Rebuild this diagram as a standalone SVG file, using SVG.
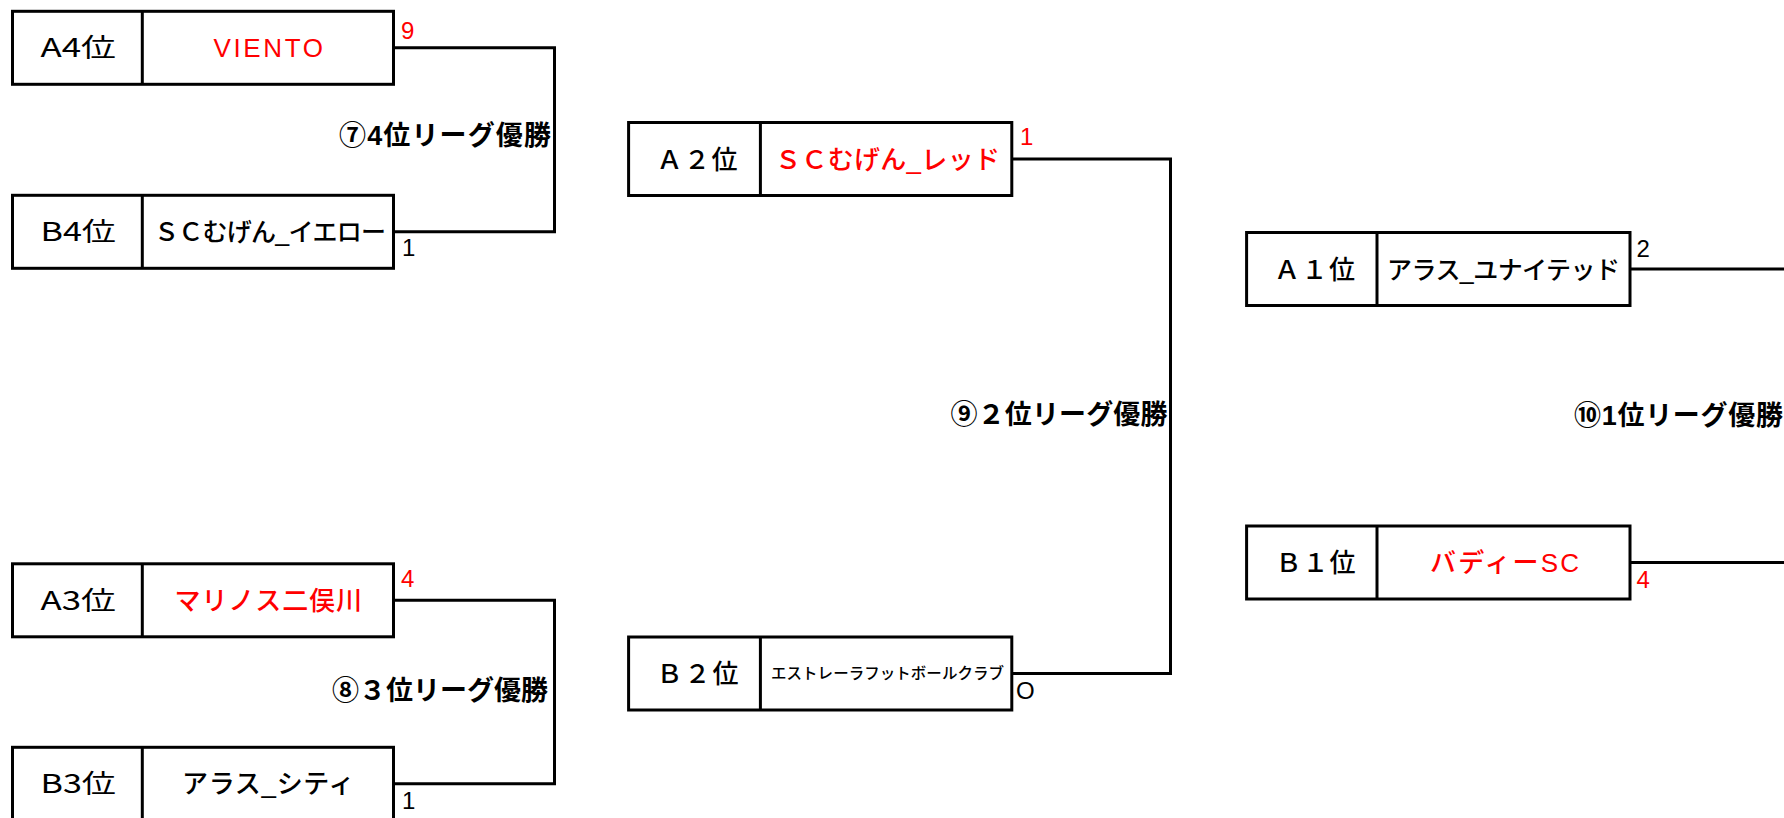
<svg xmlns="http://www.w3.org/2000/svg" width="1784" height="818" viewBox="0 0 1784 818">
<style>
  .box { fill: #ffffff; stroke: #000000; stroke-width: 3; }
  .div { stroke: #000000; stroke-width: 3; }
  .con { fill: none; stroke: #000000; stroke-width: 3; }
  text { font-family: "Liberation Sans", "Noto Sans CJK JP", sans-serif; fill: #000000; }
  .rank1 { font-family: "Noto Sans CJK JP", sans-serif; font-size: 26px; font-weight: 400; }
  .rank2 { font-family: "Noto Sans CJK JP", sans-serif; font-size: 26px; font-weight: 500; }
  .team { font-size: 26px; font-weight: 500; }
  .win { fill: #ff0000; }
  .small { font-size: 15.5px; font-weight: 500; }
  .score { font-size: 24px; }
  .round { font-size: 27px; font-weight: bold; }
</style>
<rect width="1784" height="818" fill="#ffffff"/>

<g id="connectors">
  <path class="con" d="M393.5 47.8 H554.5 V231.8 H393.5"/>
  <path class="con" d="M393.5 600.3 H554.5 V783.8 H393.5"/>
  <path class="con" d="M1011.8 159 H1170.5 V673.5 H1011.8"/>
  <path class="con" d="M1630 269 H1790"/>
  <path class="con" d="M1630 562.5 H1790"/>
</g>

<g id="match7-labels">
  <text class="round" x="339" y="144.5" textLength="212" lengthAdjust="spacing">⑦4位リーグ優勝</text>
</g>
<g id="match8-labels">
  <text class="round" x="332" y="700" textLength="216" lengthAdjust="spacing">⑧３位リーグ優勝</text>
</g>
<g id="match9-labels">
  <text class="round" x="950.5" y="424" textLength="217" lengthAdjust="spacing">⑨２位リーグ優勝</text>
</g>
<g id="match10-labels">
  <text class="round" x="1574" y="425" textLength="209" lengthAdjust="spacing">⑩1位リーグ優勝</text>
</g>

<g id="A4">
  <rect class="box" x="12.5" y="11.3" width="381" height="73"/>
  <line class="div" x1="142.3" y1="11.3" x2="142.3" y2="84.3"/>
  <text class="rank1" x="40.5" y="57.3" textLength="75.5" lengthAdjust="spacingAndGlyphs">A4位</text>
  <text class="team win" x="213.5" y="57.3" textLength="109.5" lengthAdjust="spacing">VIENTO</text>
  <text class="score win" x="401" y="39.3">9</text>
</g>
<g id="B4">
  <rect class="box" x="12.5" y="195.3" width="381" height="73"/>
  <line class="div" x1="142.3" y1="195.3" x2="142.3" y2="268.3"/>
  <text class="rank1" x="40.5" y="241.3" textLength="75.5" lengthAdjust="spacingAndGlyphs">B4位</text>
  <text class="team" style="font-size:25px" x="154" y="241.3" textLength="232" lengthAdjust="spacing">ＳＣむげん_イエロー</text>
  <text class="score" x="402" y="256">1</text>
</g>
<g id="A3">
  <rect class="box" x="12.5" y="563.8" width="381" height="73"/>
  <line class="div" x1="142.3" y1="563.8" x2="142.3" y2="636.8"/>
  <text class="rank1" x="40.5" y="609.8" textLength="75.5" lengthAdjust="spacingAndGlyphs">A3位</text>
  <text class="team win" x="174.5" y="609.8" textLength="187.5" lengthAdjust="spacing">マリノス二俣川</text>
  <text class="score win" x="401" y="587">4</text>
</g>
<g id="B3">
  <rect class="box" x="12.5" y="747.3" width="381" height="73"/>
  <line class="div" x1="142.3" y1="747.3" x2="142.3" y2="820.3"/>
  <text class="rank1" x="40.5" y="793.3" textLength="75.5" lengthAdjust="spacingAndGlyphs">B3位</text>
  <text class="team" x="182" y="793.3" textLength="172.5" lengthAdjust="spacing">アラス_シティ</text>
  <text class="score" x="402" y="809">1</text>
</g>

<g id="A2">
  <rect class="box" x="628.6" y="122.5" width="383.2" height="73"/>
  <line class="div" x1="760.4" y1="122.5" x2="760.4" y2="195.5"/>
  <text class="rank2" x="656.5" y="168.5" textLength="81" lengthAdjust="spacing">Ａ２位</text>
  <text class="team win" x="775" y="168.5" textLength="225" lengthAdjust="spacing">ＳＣむげん_レッド</text>
  <text class="score win" x="1020" y="145">1</text>
</g>
<g id="B2">
  <rect class="box" x="628.6" y="637" width="383.2" height="73"/>
  <line class="div" x1="760.4" y1="637" x2="760.4" y2="710"/>
  <text class="rank2" x="656.5" y="683" textLength="82" lengthAdjust="spacing">Ｂ２位</text>
  <text class="small" x="771" y="679" textLength="233" lengthAdjust="spacing">エストレーラフットボールクラブ</text>
  <text class="score" x="1016" y="699">O</text>
</g>

<g id="A1">
  <rect class="box" x="1246.6" y="232.5" width="383.4" height="73"/>
  <line class="div" x1="1377" y1="232.5" x2="1377" y2="305.5"/>
  <text class="rank2" x="1274" y="278.5" textLength="81" lengthAdjust="spacing">Ａ１位</text>
  <text class="team" style="font-size:25px" x="1387" y="278.5" textLength="233" lengthAdjust="spacing">アラス_ユナイテッド</text>
  <text class="score" x="1636.5" y="256.7">2</text>
</g>
<g id="B1">
  <rect class="box" x="1246.6" y="526" width="383.4" height="73"/>
  <line class="div" x1="1377" y1="526" x2="1377" y2="599"/>
  <text class="rank2" x="1275.5" y="572" textLength="80" lengthAdjust="spacing">Ｂ１位</text>
  <text class="team win" x="1430" y="572" textLength="149" lengthAdjust="spacing">バディーSC</text>
  <text class="score win" x="1636.5" y="588">4</text>
</g>
</svg>
